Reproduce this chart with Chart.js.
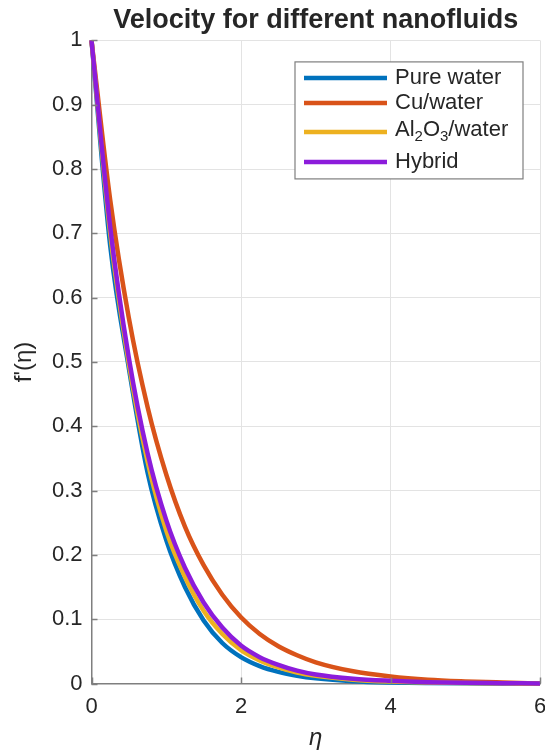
<!DOCTYPE html>
<html>
<head>
<meta charset="utf-8">
<script src="https://cdn.jsdelivr.net/npm/chart.js@4.4.1/dist/chart.umd.min.js"></script>
<style>
  html, body { margin: 0; padding: 0; background: #fff; }
  #holder { width: 545px; height: 755px; position: relative; }
</style>
</head>
<body>
<div id="holder"><canvas id="velocity"></canvas></div>
<script>
const eta        = [0, 0.25, 0.5, 0.75, 1, 1.25, 1.5, 1.75, 2, 2.25, 2.5, 2.75, 3, 3.5, 4, 4.5, 5, 5.5, 6];
const pureWater  = [1, 0.681, 0.490, 0.328, 0.223, 0.150, 0.098, 0.063, 0.041, 0.027, 0.018, 0.012, 0.008, 0.0035, 0.0015, 0.0006, 0.0002, 0.0001, 0];
const cuWater    = [1, 0.752, 0.568, 0.430, 0.325, 0.244, 0.184, 0.138, 0.103, 0.077, 0.058, 0.044, 0.033, 0.019, 0.011, 0.006, 0.0033, 0.0015, 0];
const al2o3Water = [1, 0.700, 0.497, 0.345, 0.238, 0.166, 0.113, 0.077, 0.052, 0.036, 0.025, 0.017, 0.012, 0.006, 0.003, 0.0014, 0.0006, 0.0003, 0];
const hybrid     = [1, 0.710, 0.506, 0.358, 0.254, 0.180, 0.126, 0.087, 0.059, 0.041, 0.029, 0.020, 0.014, 0.0075, 0.0042, 0.0021, 0.001, 0.0005, 0];

const seriesNames = ['Pure water', 'Cu/water', 'Al\u2082O\u2083/water', 'Hybrid'];
const xTicks = [0, 2, 4, 6];
const yTicks = [0, 0.1, 0.2, 0.3, 0.4, 0.5, 0.6, 0.7, 0.8, 0.9, 1];

const colors = {pure:'#0072BD', cu:'#D95319', al:'#EDB120', hyb:'#8C1CDB'};
const FONT = "'Liberation Sans', Arial, Helvetica, sans-serif";
const TEXT = '#262626';
const AXIS = '#7f7f7f';

function pts(ys){
	return eta.map((x, i) => ({x: x, y: ys[i]}));
}

// matlab style ticks pointing into the plot
const innerTicks = {
	id: 'innerTicks',
	afterDatasetsDraw(chart){
		const ctx = chart.ctx, a = chart.chartArea;
		const xs = chart.scales.x, ys = chart.scales.y;
		ctx.save();
		ctx.strokeStyle = AXIS;
		ctx.lineWidth = 1.5;
		ctx.beginPath();
		yTicks.forEach(v => {
			let py = Math.round(ys.getPixelForValue(v)) + 0.5;
			ctx.moveTo(a.left, py); ctx.lineTo(a.left + 6, py);
		});
		xTicks.forEach(v => {
			let px = Math.round(xs.getPixelForValue(v)) + 0.5;
			ctx.moveTo(px, a.bottom); ctx.lineTo(px, a.bottom - 6);
		});
		ctx.stroke();
		ctx.restore();
	}
};

// legend box in the top right corner, handles subscript digits
const subDigits = '\u2080\u2081\u2082\u2083\u2084\u2085\u2086\u2087\u2088\u2089';
function hasSub(s){ return [...s].some(c => subDigits.indexOf(c) >= 0); }

function drawLabel(ctx, s, x, y){
	let cx = x;
	const sub = hasSub(s);
	for (const c of s){
		let k = subDigits.indexOf(c);
		if (k >= 0){
			ctx.font = '15px ' + FONT;
			ctx.fillText(String(k), cx, y + 5);
			cx += ctx.measureText(String(k)).width;
		} else {
			ctx.font = '22px ' + FONT;
			ctx.fillText(c, cx, sub ? y - 2 : y);
			cx += ctx.measureText(c).width;
		}
	}
}

const boxLegend = {
	id: 'boxLegend',
	afterDraw(chart){
		const ctx = chart.ctx, a = chart.chartArea;
		const bw = 228, bh = 117;
		const bx = a.right - 17 - bw, by = a.top + 21.5;
		ctx.save();
		ctx.fillStyle = '#fff';
		ctx.fillRect(bx, by, bw, bh);
		ctx.strokeStyle = AXIS;
		ctx.lineWidth = 1.2;
		ctx.strokeRect(bx, by, bw, bh);
		ctx.textBaseline = 'middle';
		ctx.textAlign = 'left';
		let y = by + 16;
		chart.data.datasets.forEach((ds, i) => {
			if (i > 0){
				y += 25;
				if (hasSub(ds.label)) y += 4;
				if (hasSub(chart.data.datasets[i-1].label)) y += 5;
			}
			ctx.strokeStyle = ds.borderColor;
			ctx.lineWidth = 4.5;
			ctx.beginPath();
			ctx.moveTo(bx + 9, y); ctx.lineTo(bx + 92, y);
			ctx.stroke();
			ctx.fillStyle = TEXT;
			drawLabel(ctx, ds.label, bx + 100, y);
		});
		ctx.restore();
	}
};

const datasets = [
	{label: seriesNames[0], data: pts(pureWater),  borderColor: colors.pure, order: 4},
	{label: seriesNames[1], data: pts(cuWater),    borderColor: colors.cu,   order: 3},
	{label: seriesNames[2], data: pts(al2o3Water), borderColor: colors.al,   order: 2},
	{label: seriesNames[3], data: pts(hybrid),     borderColor: colors.hyb,  order: 1}
].map(d => Object.assign(d, {
	borderWidth: 4.5, pointRadius: 0, fill: false, showLine: true,
	cubicInterpolationMode: 'monotone', clip: false
}));

new Chart(document.getElementById('velocity'), {
	type: 'scatter',
	data: {datasets: datasets},
	options: {
		responsive: true,
		maintainAspectRatio: false,
		animation: false,
		events: [],
		layout: {padding: {left: 0, right: 5, top: 0, bottom: 0}},
		plugins: {
			legend: {display: false},
			tooltip: {enabled: false},
			title: {
				display: true,
				text: 'Velocity for different nanofluids',
				fullSize: false,
				color: TEXT,
				font: {family: FONT, size: 27, weight: 'bold'},
				padding: {top: 4, bottom: 4}
			}
		},
		scales: {
			x: {
				type: 'linear', min: 0, max: 6,
				afterBuildTicks: s => { s.ticks = xTicks.map(v => ({value: v})); },
				afterFit: s => { s.height = 71.5; s.paddingLeft = 0; s.paddingRight = 0; },
				ticks: {color: TEXT, font: {family: FONT, size: 22}, padding: 10, maxRotation: 0},
				grid: {color: '#e3e3e3', drawTicks: false, lineWidth: 1},
				border: {color: AXIS, width: 1.5},
				title: {display: true, text: '\u03b7', color: TEXT,
					font: {family: FONT, size: 24, style: 'italic'}, padding: {top: 0, bottom: 2}}
			},
			y: {
				type: 'linear', min: 0, max: 1,
				afterBuildTicks: s => { s.ticks = yTicks.map(v => ({value: v})); },
				afterFit: s => { s.width = 91.5; s.paddingTop = 0; s.paddingBottom = 0; },
				ticks: {color: TEXT, font: {family: FONT, size: 22}, padding: 9,
					callback: v => String(Math.round(v * 10) / 10)},
				grid: {color: '#e3e3e3', drawTicks: false, lineWidth: 1},
				border: {color: AXIS, width: 1.5},
				title: {display: true, text: "f'(\u03b7)", color: TEXT,
					font: {family: FONT, size: 24}, padding: {top: 10, bottom: 0}}
			}
		}
	},
	plugins: [innerTicks, boxLegend]
});
</script>
</body>
</html>
